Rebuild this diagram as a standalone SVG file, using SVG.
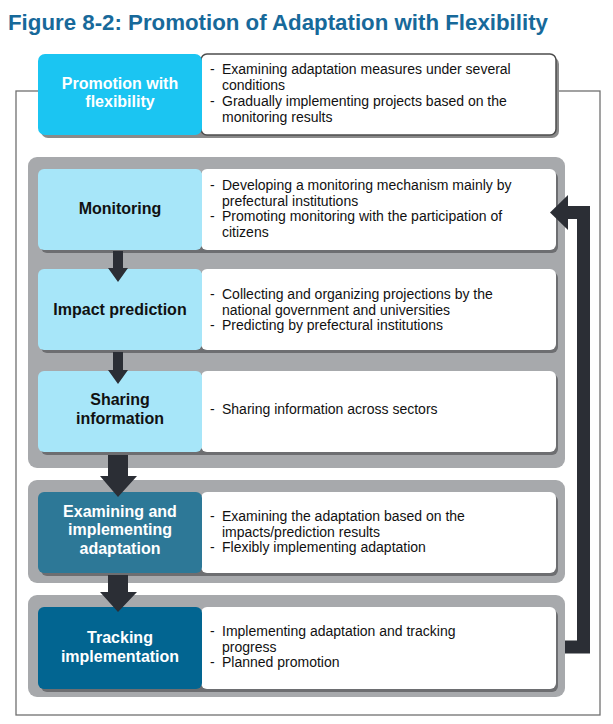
<svg xmlns="http://www.w3.org/2000/svg" width="613" height="724" viewBox="0 0 613 724">
<style>
.title{font-family:"Liberation Sans",Arial,sans-serif;font-weight:bold;font-size:22px;fill:#17699a}
.body{font-family:"Liberation Sans",Arial,sans-serif;font-size:14px;fill:#111}
.lbl{font-family:"Liberation Sans",Arial,sans-serif;font-weight:bold;font-size:16px;text-anchor:middle}
.dk{fill:#111}
.wt{fill:#fff}
.panel{fill:#a7a9ac}
.shadow{fill:#6d6e71}
.wbox{fill:#fff}
.arrow{fill:#2b2e35}
</style>
<rect width="613" height="724" fill="#fff"/>
<text class="title" x="8" y="30" textLength="540" lengthAdjust="spacingAndGlyphs">Figure 8-2: Promotion of Adaptation with Flexibility</text>
<rect x="16" y="91" width="584" height="624" fill="none" stroke="#707070" stroke-width="1.3"/>
<g id="panel1"><rect class="panel" x="28" y="157" width="537" height="311" rx="9"/></g>
<g id="panel2"><rect class="panel" x="28" y="480" width="537" height="103" rx="9"/></g>
<g id="panel3"><rect class="panel" x="28" y="595" width="537" height="102" rx="9"/></g>

<g id="node-promotion">
<rect x="41" y="57" width="518" height="81" rx="7" fill="#8a8a8a"/>
<rect x="201" y="54" width="355" height="81" rx="6" fill="#fff" stroke="#4d4d4d" stroke-width="1.5"/>
<rect x="38" y="54" width="164" height="81" rx="7" fill="#1bc5f2"/>
<text class="lbl wt" x="120" y="88.5">Promotion with</text>
<text class="lbl wt" x="120" y="107">flexibility</text>
<text class="body" x="210" y="73.5">-</text><text class="body" x="222" y="73.5">Examining adaptation measures under several</text>
<text class="body" x="222" y="89.5">conditions</text>
<text class="body" x="210" y="106">-</text><text class="body" x="222" y="106">Gradually implementing projects based on the</text>
<text class="body" x="222" y="122">monitoring results</text>
</g>

<g id="node-monitoring">
<rect class="shadow" x="41" y="172" width="517" height="81" rx="6"/>
<rect class="wbox" x="201" y="169" width="355" height="81" rx="6"/>
<rect x="38" y="169" width="164" height="81" rx="6" fill="#a7e6f9"/>
<text class="lbl dk" x="120" y="214">Monitoring</text>
<text class="body" x="210" y="190">-</text><text class="body" x="222" y="190">Developing a monitoring mechanism mainly by</text>
<text class="body" x="222" y="205.5">prefectural institutions</text>
<text class="body" x="210" y="221">-</text><text class="body" x="222" y="221">Promoting monitoring with the participation of</text>
<text class="body" x="222" y="236.5">citizens</text>
</g>

<g id="node-impact">
<rect class="shadow" x="41" y="272" width="517" height="81" rx="6"/>
<rect class="wbox" x="201" y="269" width="355" height="81" rx="6"/>
<rect x="38" y="269" width="164" height="81" rx="6" fill="#a7e6f9"/>
<text class="lbl dk" x="120" y="315">Impact prediction</text>
<text class="body" x="210" y="299">-</text><text class="body" x="222" y="299">Collecting and organizing projections by the</text>
<text class="body" x="222" y="314.5">national government and universities</text>
<text class="body" x="210" y="330">-</text><text class="body" x="222" y="330">Predicting by prefectural institutions</text>
</g>

<g id="node-sharing">
<rect class="shadow" x="41" y="374" width="517" height="81" rx="6"/>
<rect class="wbox" x="201" y="371" width="355" height="81" rx="6"/>
<rect x="38" y="371" width="164" height="81" rx="6" fill="#a7e6f9"/>
<text class="lbl dk" x="120" y="405">Sharing</text>
<text class="lbl dk" x="120" y="423.5">information</text>
<text class="body" x="210" y="413.5">-</text><text class="body" x="222" y="413.5">Sharing information across sectors</text>
</g>

<g id="node-examining">
<rect class="shadow" x="41" y="495" width="517" height="81" rx="6"/>
<rect class="wbox" x="201" y="492" width="355" height="81" rx="6"/>
<rect x="38" y="492" width="164" height="81" rx="6" fill="#2d7897"/>
<text class="lbl wt" x="120" y="516.5">Examining and</text>
<text class="lbl wt" x="120" y="535">implementing</text>
<text class="lbl wt" x="120" y="553.5">adaptation</text>
<text class="body" x="210" y="521">-</text><text class="body" x="222" y="521">Examining the adaptation based on the</text>
<text class="body" x="222" y="536.5">impacts/prediction results</text>
<text class="body" x="210" y="552">-</text><text class="body" x="222" y="552">Flexibly implementing adaptation</text>
</g>

<g id="node-tracking">
<rect class="shadow" x="41" y="610" width="517" height="82" rx="6"/>
<rect class="wbox" x="201" y="607" width="355" height="82" rx="6"/>
<rect x="38" y="607" width="164" height="82" rx="6" fill="#026591"/>
<text class="lbl wt" x="120" y="643">Tracking</text>
<text class="lbl wt" x="120" y="661.5">implementation</text>
<text class="body" x="210" y="636">-</text><text class="body" x="222" y="636">Implementing adaptation and tracking</text>
<text class="body" x="222" y="651.5">progress</text>
<text class="body" x="210" y="667">-</text><text class="body" x="222" y="667">Planned promotion</text>
</g>

<g id="connectors">
<polygon class="arrow" points="113,251 123,251 123,268 128,268 118,282 108,268 113,268"/>
<polygon class="arrow" points="113,352 123,352 123,370 128,370 118,384 108,370 113,370"/>
<polygon class="arrow" points="108,455 128,455 128,476 137,476 118,497 100,476 108,476"/>
<polygon class="arrow" points="108,575 128,575 128,592 137,592 118,612 100,592 108,592"/>
<path d="M565,647 H583.5 V212.5 H566" fill="none" stroke="#2b2e35" stroke-width="13"/>
<polygon class="arrow" points="568,195 568,230 550,212.5"/>
</g>
</svg>
